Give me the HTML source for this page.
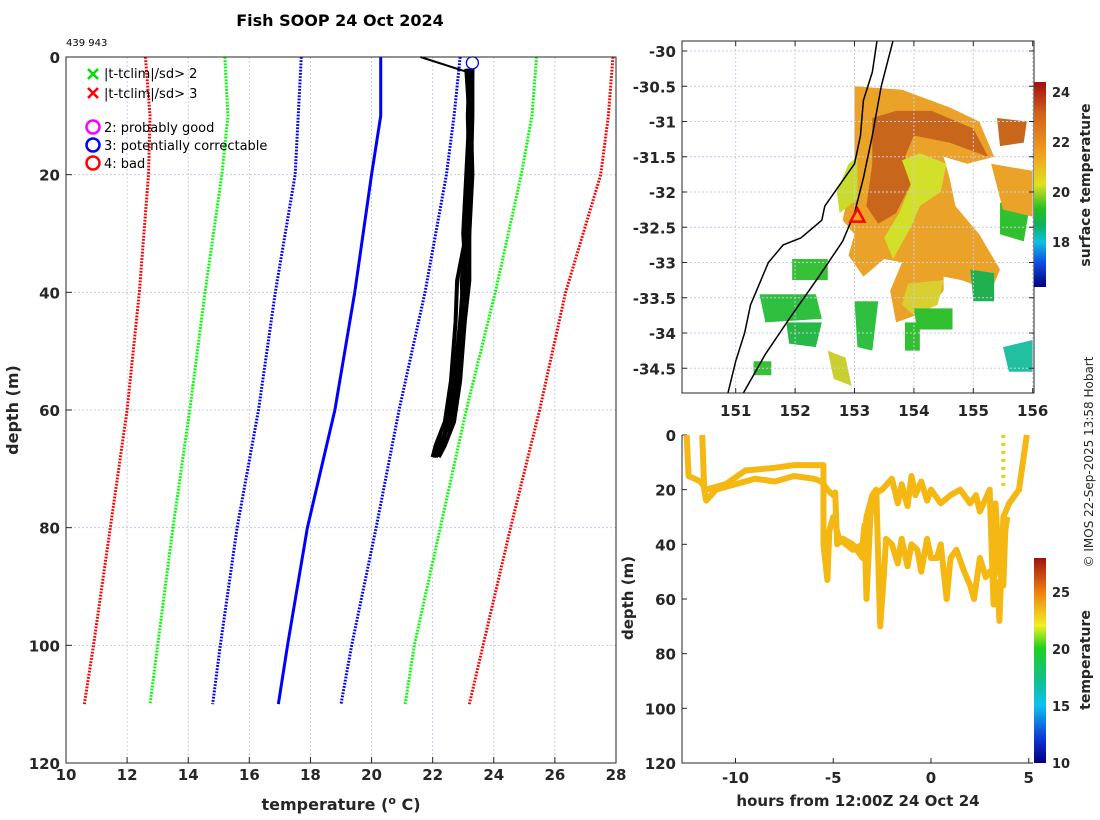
<!DOCTYPE html>
<html><head><meta charset="utf-8"><style>
html,body{margin:0;padding:0;background:#fff}
svg{display:block;font-family:"DejaVu Sans","Liberation Sans",sans-serif}
.tk{font-size:15px;font-weight:bold;fill:#262626}
</style></head><body>
<svg id="s" width="1100" height="820" viewBox="0 0 1100 820" xmlns="http://www.w3.org/2000/svg">
<defs>
<linearGradient id="cb1" x1="0" y1="0" x2="0" y2="1">
<stop offset="0" stop-color="#a01010"/><stop offset="0.15" stop-color="#d06018"/><stop offset="0.35" stop-color="#f0a020"/><stop offset="0.5" stop-color="#e0e020"/><stop offset="0.62" stop-color="#20c020"/><stop offset="0.7" stop-color="#10b060"/><stop offset="0.78" stop-color="#10c0e0"/><stop offset="0.88" stop-color="#1050e0"/><stop offset="1" stop-color="#000080"/>
</linearGradient>
<linearGradient id="cb2" x1="0" y1="0" x2="0" y2="1">
<stop offset="0" stop-color="#a01010"/><stop offset="0.167" stop-color="#f08010"/><stop offset="0.33" stop-color="#f0f020"/><stop offset="0.44" stop-color="#20d020"/><stop offset="0.6" stop-color="#10c090"/><stop offset="0.72" stop-color="#10c0f0"/><stop offset="0.89" stop-color="#1030d0"/><stop offset="1" stop-color="#000080"/>
</linearGradient>
</defs>
<text x="340" y="26" text-anchor="middle" font-size="16" font-weight="bold" fill="#000">Fish SOOP 24 Oct 2024</text>
<text x="66" y="46" font-size="10" fill="#000">439 943</text>
<text transform="translate(18,410) rotate(-90)" text-anchor="middle" font-size="16" font-weight="bold" fill="#262626">depth (m)</text>
<text x="341" y="810" text-anchor="middle" font-size="16" font-weight="bold" fill="#262626">temperature (<tspan font-size="11" dy="-6">o</tspan><tspan dy="6"> C)</tspan></text>
<text transform="translate(1093,462) rotate(-90)" text-anchor="middle" font-size="12" fill="#262626">© IMOS 22-Sep-2025 13:58 Hobart</text>
<text transform="translate(1090,185) rotate(-90)" text-anchor="middle" font-size="14" font-weight="bold" fill="#262626">surface temperature</text>
<text transform="translate(1090,660) rotate(-90)" text-anchor="middle" font-size="14" font-weight="bold" fill="#262626">temperature</text>
<text transform="translate(633,598) rotate(-90)" text-anchor="middle" font-size="15" font-weight="bold" fill="#262626">depth (m)</text>
<text x="858" y="806" text-anchor="middle" font-size="15" font-weight="bold" fill="#262626">hours from 12:00Z 24 Oct 24</text>
<g id="g"></g>
</svg>
<script>
// ---- Profile plot data ----
const depthsClim = [0, 10, 20, 40, 60, 80, 100, 110];
const redLeft   = [12.6, 12.75, 12.7, 12.4, 12.0, 11.45, 10.9, 10.6];
const greenLeft = [15.2, 15.3, 15.1, 14.55, 14.05, 13.5, 13.0, 12.75];
const blueLeft  = [17.7, 17.6, 17.5, 16.85, 16.3, 15.6, 15.05, 14.8];
const meanClim  = [20.3, 20.3, 20.0, 19.45, 18.8, 17.9, 17.25, 16.95];
const blueRight = [22.9, 22.7, 22.45, 21.75, 20.9, 20.15, 19.35, 19.0];
const greenRight= [25.4, 25.25, 24.9, 24.05, 23.1, 22.25, 21.4, 21.1];
const redRight  = [27.9, 27.75, 27.5, 26.35, 25.5, 24.55, 23.65, 23.2];
const profDepths = [2, 10, 20, 30, 38, 45, 55, 62, 66, 68];
const prof1 = [23.3, 23.3, 23.25, 23.2, 23.0, 22.9, 22.8, 22.6, 22.2, 22.0];
const prof2 = [23.2, 23.15, 23.2, 23.1, 22.8, 22.75, 22.6, 22.4, 22.1, 22.0];
const prof3 = [23.3, 23.25, 23.3, 23.2, 23.2, 23.05, 22.9, 22.7, 22.4, 22.2];
const prof4 = [23.1, 23.2, 23.1, 23.0, 23.1, 22.9, 22.7, 22.5, 22.3, 22.1];
const prof5 = [23.2, 23.2, 23.15, 23.15, 22.95, 23.0, 22.75, 22.55, 22.25, 22.05];
const xTicks = [10,12,14,16,18,20,22,24,26,28];
const yTicks = [0,20,40,60,80,100,120];
// ---- Map data ----
const lonTicks = [151,152,153,154,155,156];
const latTicks = [-30,-30.5,-31,-31.5,-32,-32.5,-33,-33.5,-34,-34.5];
const sstTicks = [18,20,22,24];
const coastLon = [153.38,153.3,153.15,153.1,153.0,152.75,152.5,152.45,152.1,151.8,151.55,151.4,151.25,151.15,151.0,150.87];
const coastLat = [-29.85,-30.3,-30.7,-31.2,-31.6,-31.9,-32.2,-32.4,-32.65,-32.75,-33.0,-33.3,-33.6,-34.0,-34.4,-34.85];
const shelfLon = [153.65,153.45,153.3,153.15,153.0,152.8,152.4,151.9,151.5,151.13];
const shelfLat = [-29.85,-30.5,-31.2,-31.8,-32.3,-32.7,-33.2,-33.8,-34.3,-34.85];
const blobs = [
 {c:"#eaa228",p:[[153.0,-30.5],[153.8,-30.55],[154.6,-30.8],[155.1,-31.0],[155.35,-31.5],[154.9,-31.6],[154.5,-31.5],[154.6,-31.8],[154.7,-32.2],[155.1,-32.6],[155.45,-33.1],[155.3,-33.4],[154.8,-33.25],[154.5,-33.2],[154.5,-33.4],[154.2,-33.7],[153.7,-33.85],[153.6,-33.4],[153.8,-33.0],[153.5,-32.95],[153.15,-33.2],[152.9,-32.9],[153.0,-32.6],[152.8,-32.4],[152.9,-32.0],[153.0,-31.5]]},
 {c:"#c8661c",p:[[153.3,-30.95],[153.7,-30.85],[154.3,-30.85],[155.0,-31.1],[155.25,-31.5],[154.6,-31.3],[154.0,-31.2],[153.85,-31.5],[154.0,-31.8],[153.7,-32.3],[153.4,-32.45],[153.2,-32.2],[153.3,-31.6]]},
 {c:"#d2e02a",p:[[153.8,-31.55],[154.1,-31.45],[154.55,-31.6],[154.45,-32.0],[154.1,-32.2],[153.95,-32.5],[153.65,-32.95],[153.5,-32.65],[153.75,-32.3],[153.95,-31.9]]},
 {c:"#d8d030",p:[[153.9,-33.3],[154.5,-33.25],[154.4,-33.6],[154.0,-33.75],[153.8,-33.6]]},
 {c:"#c8dc30",p:[[152.9,-31.6],[153.05,-31.5],[153.05,-32.1],[152.75,-32.3],[152.7,-32.0]]},
 {c:"#30c040",p:[[151.4,-33.45],[152.35,-33.45],[152.45,-33.8],[151.5,-33.85]]},
 {c:"#38c038",p:[[151.95,-32.95],[152.55,-32.95],[152.55,-33.25],[151.95,-33.25]]},
 {c:"#28b848",p:[[151.85,-33.85],[152.45,-33.85],[152.35,-34.2],[151.9,-34.15]]},
 {c:"#30c030",p:[[155.45,-32.15],[155.95,-32.2],[155.85,-32.7],[155.45,-32.6]]},
 {c:"#20c0a0",p:[[155.5,-34.2],[156.0,-34.1],[156.0,-34.55],[155.6,-34.55]]},
 {c:"#30c030",p:[[154.0,-33.65],[154.65,-33.65],[154.65,-33.95],[154.05,-33.95]]},
 {c:"#20b050",p:[[154.95,-33.1],[155.35,-33.15],[155.35,-33.55],[155.0,-33.55]]},
 {c:"#c8661c",p:[[155.4,-30.95],[155.9,-31.0],[155.85,-31.3],[155.45,-31.35]]},
 {c:"#eaa228",p:[[155.3,-31.6],[156.0,-31.7],[156.0,-32.35],[155.5,-32.25]]},
 {c:"#30c040",p:[[153.0,-33.55],[153.4,-33.55],[153.3,-34.25],[153.05,-34.2]]},
 {c:"#c8d030",p:[[152.55,-34.25],[152.85,-34.35],[152.95,-34.75],[152.65,-34.65]]},
 {c:"#30c030",p:[[153.85,-33.85],[154.1,-33.85],[154.1,-34.25],[153.85,-34.25]]},
 {c:"#38c038",p:[[151.3,-34.4],[151.6,-34.4],[151.6,-34.6],[151.3,-34.6]]}
];
const shipLon = [153.05], shipLat = [-32.35];
// ---- Depth-time data ----
const timeTicks = [-10,-5,0,5];
const dtDepthTicks = [0,20,40,60,80,100,120];
const tempTicks = [10,15,20,25];
const trackAHours = [-12.5,-12.4,-11.8,-11.5,-10.5,-9.5,-8,-7,-6,-5.5,-5.5,-5.3,-5.2,-5,-4.7,-4,-3.5,-3.4,-3.3,-3.1,-3,-2.8,-2.6,-2.4,-2.3,-2,-1.7,-1.5,-1.2,-1,-0.7,-0.5,-0.2,0,0.3,0.5,0.8,1,1.3,1.5,1.7,2,2.2,2.5,2.8,3,3.4,3.5,3.7,4,4.5,4.8,4.9];
const trackADepth = [0,15,17,20,18,13,12,11,11,11,40,53,35,30,38,42,40,33,60,30,22,20,70,50,38,40,47,38,48,40,42,50,38,45,45,40,60,45,42,46,50,55,60,45,52,50,55,68,30,25,20,5,0];
const trackBHours = [-11.7,-11.6,-11.5,-11,-10,-9,-8,-7,-6,-5.6,-5.3,-5,-4.9,-4.8,-4.5,-4,-3.5,-3.3,-3,-2.5,-2,-1.7,-1.5,-1.2,-1,-0.8,-0.5,-0.2,0,0.5,1,1.5,2,2.3,2.5,3,3.2,3.3,3.5,3.7,3.8,3.9];
const trackBDepth = [0,20,24,20,18,16,17,15,16,17,20,22,21,40,38,40,45,30,22,20,16,25,18,26,15,22,17,24,20,25,22,20,25,22,28,20,62,25,50,55,35,30];

const NS="http://www.w3.org/2000/svg", G=document.getElementById('g');
function el(t,a,parent){const e=document.createElementNS(NS,t);for(const k in a)e.setAttribute(k,a[k]);(parent||G).appendChild(e);return e;}
function txt(x,y,s,anchor,cls){const e=el('text',{x:x,y:y,'text-anchor':anchor,class:cls||'tk'});e.textContent=s;return e;}

// ===== Profile plot =====
const PX0=66,PX1=616,PY0=57,PY1=763;
const px=t=>PX0+(t-10)/18*(PX1-PX0), py=d=>PY0+d/120*(PY1-PY0);
xTicks.forEach(t=>{const g=el('line',{x1:px(t),x2:px(t),y1:PY0,y2:PY1,stroke:'#c6cde6','stroke-dasharray':'2 2','stroke-width':1});

el('line',{x1:px(t),x2:px(t),y1:PY1,y2:PY1-6,stroke:'#262626'});
const l=txt(px(t),780,String(t),'middle');});
yTicks.forEach(d=>{const g=el('line',{x1:PX0,x2:PX1,y1:py(d),y2:py(d),stroke:'#c6cde6','stroke-dasharray':'2 2'});

el('line',{x1:PX0,x2:PX0+6,y1:py(d),y2:py(d),stroke:'#262626'});
const l=txt(PX0-6,py(d)+6,String(d),'end');});
function profLine(vals,deps,color,dash,w,name){const pts=vals.map((v,i)=>px(v)+','+py(deps[i])).join(' ');
const e=el('polyline',{points:pts,fill:'none',stroke:color,'stroke-width':w,'stroke-dasharray':dash||'none','stroke-linejoin':'round'});
}
profLine(redLeft,depthsClim,'#f00','1.8 1.4',3,'clim-minus-3sd');
profLine(greenLeft,depthsClim,'#0f0','1.8 1.4',3,'clim-minus-2sd');
profLine(blueLeft,depthsClim,'#00f','1.8 1.4',3,'clim-minus-1sd');
profLine(meanClim,depthsClim,'#00f','',3,'clim-mean');
profLine(blueRight,depthsClim,'#00f','1.8 1.4',3,'clim-plus-1sd');
profLine(greenRight,depthsClim,'#0f0','1.8 1.4',3,'clim-plus-2sd');
profLine(redRight,depthsClim,'#f00','1.8 1.4',3,'clim-plus-3sd');
[prof1,prof2,prof3,prof4,prof5].forEach(p=>profLine(p,profDepths,'#000','',4,'temperature-profile'));
el('line',{x1:px(21.6),y1:py(0),x2:px(23.1),y2:py(2.5),stroke:'#000','stroke-width':2});
const qc=el('circle',{cx:px(23.3),cy:py(1),r:6,fill:'none',stroke:'#00f','stroke-width':1.3});

el('rect',{x:PX0,y:PY0,width:PX1-PX0,height:PY1-PY0,fill:'none',stroke:'#262626'});
// legend
function cross(x,y,c){el('path',{d:`M${x-5},${y-5}L${x+5},${y+5}M${x-5},${y+5}L${x+5},${y-5}`,stroke:c,'stroke-width':2.5});}
function legText(x,y,s){const e=el('text',{x:x,y:y,'font-size':13,fill:'#000'});e.textContent=s;}
cross(93,74,'#0d0');legText(104,78,'|t-tclim|/sd> 2');
cross(93,93,'#f00');legText(104,98,'|t-tclim|/sd> 3');
[['#f0f','2: probably good',127],['#00f','3: potentially correctable',145],['#f00','4: bad',163]].forEach(a=>{el('circle',{cx:93,cy:a[2],r:6.5,fill:'none',stroke:a[0],'stroke-width':2.5});legText(104,a[2]+5,a[1]);});

// ===== Map =====
const MX0=682,MX1=1034,MY0=41,MY1=393;
const mx=l=>735.7+(l-151)*59.4, my=a=>51+(-30-a)*70.5;
const clip=el('clipPath',{id:'mc'});el('rect',{x:MX0,y:MY0,width:MX1-MX0,height:MY1-MY0},clip);
const mg=el('g',{'clip-path':'url(#mc)'});
blobs.forEach(b=>{const e=el('polygon',{points:b.p.map(q=>mx(q[0])+','+my(q[1])).join(' '),fill:b.c},mg);});
lonTicks.forEach(l=>{el('line',{x1:mx(l),x2:mx(l),y1:MY0,y2:MY1,stroke:'#c6cde6','stroke-dasharray':'2 2'},mg);
el('line',{x1:mx(l),x2:mx(l),y1:MY0,y2:MY0+5,stroke:'#262626'});el('line',{x1:mx(l),x2:mx(l),y1:MY1,y2:MY1-5,stroke:'#262626'});
const t=txt(mx(l),416,String(l),'middle');});
latTicks.forEach(a=>{el('line',{x1:MX0,x2:MX1,y1:my(a),y2:my(a),stroke:'#c6cde6','stroke-dasharray':'2 2'},mg);
el('line',{x1:MX0,x2:MX0+5,y1:my(a),y2:my(a),stroke:'#262626'});el('line',{x1:MX1,x2:MX1-5,y1:my(a),y2:my(a),stroke:'#262626'});
const t=txt(MX0-6,my(a)+6,String(a),'end');});
const coast=el('polyline',{points:coastLon.map((l,i)=>mx(l)+','+my(coastLat[i])).join(' '),fill:'none',stroke:'#000','stroke-width':1.5},mg);

const shelf=el('polyline',{points:shelfLon.map((l,i)=>mx(l)+','+my(shelfLat[i])).join(' '),fill:'none',stroke:'#000','stroke-width':1.5},mg);

shipLon.forEach((l,i)=>{const x=mx(l),y=my(shipLat[i]);const e=el('polygon',{points:`${x},${y-8} ${x-7},${y+5} ${x+7},${y+5}`,fill:'none',stroke:'#f00','stroke-width':2.5});});
el('rect',{x:MX0,y:MY0,width:MX1-MX0,height:MY1-MY0,fill:'none',stroke:'#262626'});
const C1Y0=82,C1Y1=287,cy1=v=>C1Y0+(24.4-v)/(24.4-16.2)*(C1Y1-C1Y0);
const cb1=el('rect',{x:1034,y:C1Y0,width:12,height:C1Y1-C1Y0,fill:'url(#cb1)'});
sstTicks.forEach(v=>{const t=txt(1052,cy1(v)+5,String(v),'start');t.style.fontSize='13px';});

// ===== Depth-time =====
const DX0=682,DX1=1033,DY0=435,DY1=763;
const dx=h=>931+h*19.55, dy=d=>DY0+d/120*(DY1-DY0);
timeTicks.forEach(h=>{el('line',{x1:dx(h),x2:dx(h),y1:DY1,y2:DY1-5,stroke:'#262626'});
const t=txt(dx(h),783,String(h),'middle');});
dtDepthTicks.forEach(d=>{el('line',{x1:DX0,x2:DX0+5,y1:dy(d),y2:dy(d),stroke:'#262626'});
const t=txt(DX0-6,dy(d)+6,String(d),'end');});
[[trackAHours,trackADepth],[trackBHours,trackBDepth]].forEach(tr=>{const e=el('polyline',{points:tr[0].map((h,i)=>dx(h)+','+dy(tr[1][i])).join(' '),fill:'none',stroke:'#f5b812','stroke-width':6,'stroke-linejoin':'round'});
});
el('line',{x1:dx(3.7),x2:dx(3.7),y1:dy(0),y2:dy(20),stroke:'#e8d020','stroke-width':4,'stroke-dasharray':'3 5'});
el('path',{d:`M${DX0},${DY0}V${DY1}H${DX1}`,fill:'none',stroke:'#262626'});
const C2Y0=558,C2Y1=763,cy2=v=>C2Y0+(28-v)/18*(C2Y1-C2Y0);
const cb2=el('rect',{x:1034,y:C2Y0,width:12,height:C2Y1-C2Y0,fill:'url(#cb2)'});
tempTicks.forEach(v=>{const t=txt(1052,cy2(v)+5,String(v),'start');t.style.fontSize='13px';});
</script>
</body></html>
